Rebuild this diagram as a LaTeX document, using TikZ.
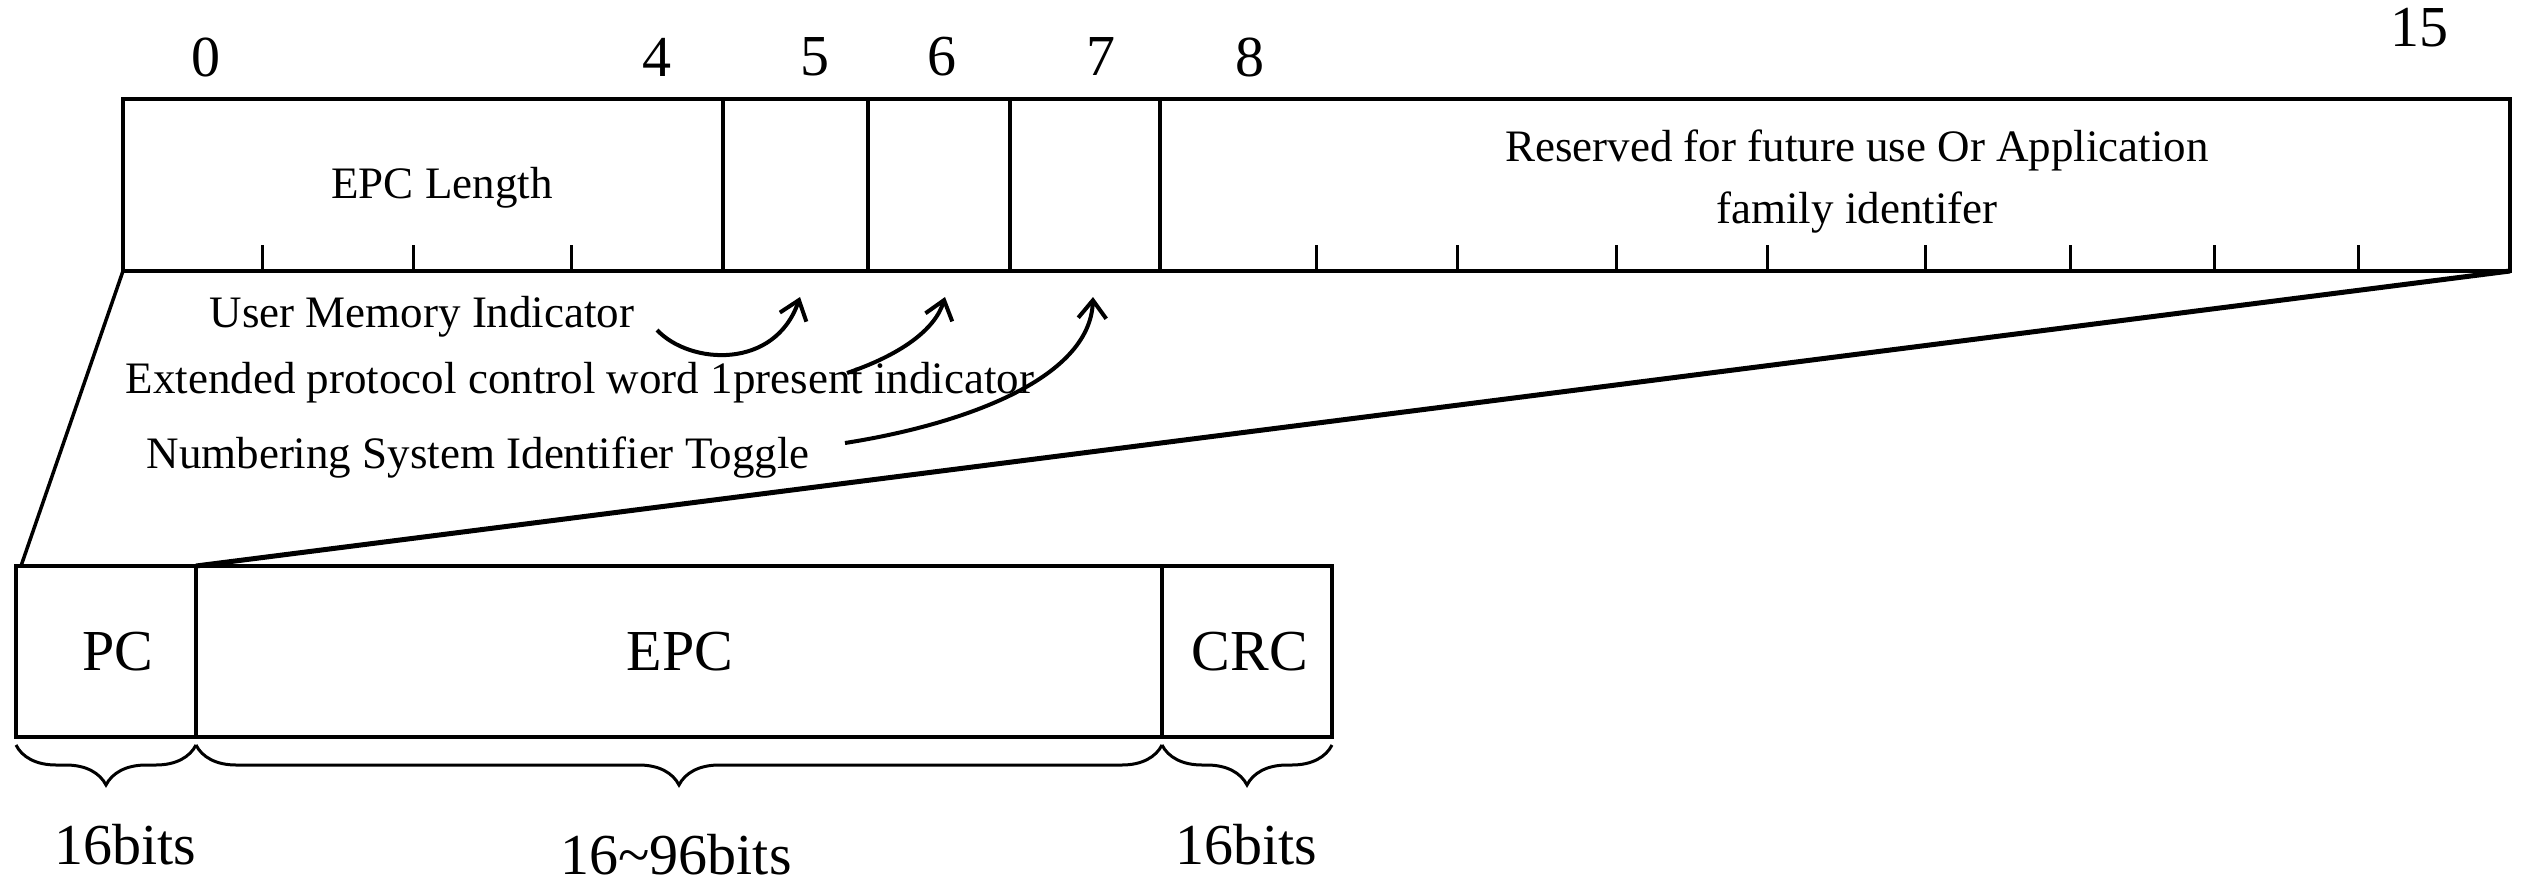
\documentclass[tikz,border=0pt]{standalone}
\usepackage{fontspec}
\setmainfont{Liberation Serif}
\usetikzlibrary{arrows.meta,decorations.pathreplacing}
\begin{document}
\begin{tikzpicture}[x=1pt,y=-1pt,
  box/.style={line width=4pt},
  sep/.style={line width=3.5pt},
  tick/.style={line width=3pt},
  lbl/.style={font=\fontsize{45}{50}\selectfont,inner sep=0pt},
  num/.style={font=\fontsize{58}{60}\selectfont,inner sep=0pt},
  arr/.style={line width=4pt,-{Straight Barb[length=18pt,width=28pt,line width=4pt]}},
  brc/.style={line width=3pt,decorate,decoration={brace,mirror,amplitude=40pt}}]
\useasboundingbox (0,0) rectangle (2528,889);
% top register
\coordinate (tl) at (123,99); \coordinate (tr) at (2510,99);
\coordinate (bl) at (123,271); \coordinate (br) at (2510,271);
\draw[box] (tl) rectangle (br);
\foreach \x in {723,868,1010,1160} \draw[sep] (\x,99) -- (\x,271);
\foreach \x in {262,413,571,1316,1457,1616,1767,1925,2070,2214,2358} \draw[tick] (\x,245) -- (\x,271);
\foreach \x/\t in {206/0,657/4,815/5,942/6,1101/7,1250/8} \node[num] (n\t) at (\x,57) {\t};
\node[num] (n15) at (2419,28) {15};
\node[lbl] (len) at (442,188) {EPC Length};
\node[lbl,align=center] (res) at (1857,182) {Reserved for future use Or Application\\[12pt]family identifer};
% labels and arrows
\node[lbl] (umi) at (422,317) {User Memory Indicator};
\node[lbl] (xpc) at (580,383) {Extended protocol control word 1present indicator};
\node[lbl] (nsi) at (478,458) {Numbering System Identifier Toggle};
\coordinate (a5) at (800,297); \coordinate (a6) at (945,297); \coordinate (a7) at (1093,297);
\coordinate (s1) at (657,330); \coordinate (s2) at (847,373); \coordinate (s3) at (845,443);
\draw[arr] (s1) .. controls (690,365) and (775,370) .. (a5);
\draw[arr] (s2) .. controls (900,355) and (935,330) .. (a6);
\draw[arr] (s3) .. controls (960,425) and (1090,380) .. (a7);
% bottom frame
\coordinate (btl) at (16,566); \coordinate (bbr) at (1332,737);
\draw[box] (btl) rectangle (bbr);
\draw[sep] (196,566) -- (196,737);
\draw[sep] (1162,566) -- (1162,737);
\coordinate (fl) at (21,566); \coordinate (fr) at (196,566);
\draw[line width=3.5pt] (bl) -- (fl);
\draw[line width=5pt] (br) -- (fr);
\node[num] (pc) at (118,652) {PC};
\node[num] (epc) at (680,652) {EPC};
\node[num] (crc) at (1250,652) {CRC};
% braces
\draw[brc] (16,745) -- (196,745);
\draw[brc] (196,745) -- (1162,745);
\draw[brc] (1162,745) -- (1332,745);
\node[num] (b1) at (125,845) {16bits};
\node[num] (b2) at (676,855) {16\textasciitilde96bits};
\node[num] (b3) at (1246,845) {16bits};
\end{tikzpicture}
\end{document}
